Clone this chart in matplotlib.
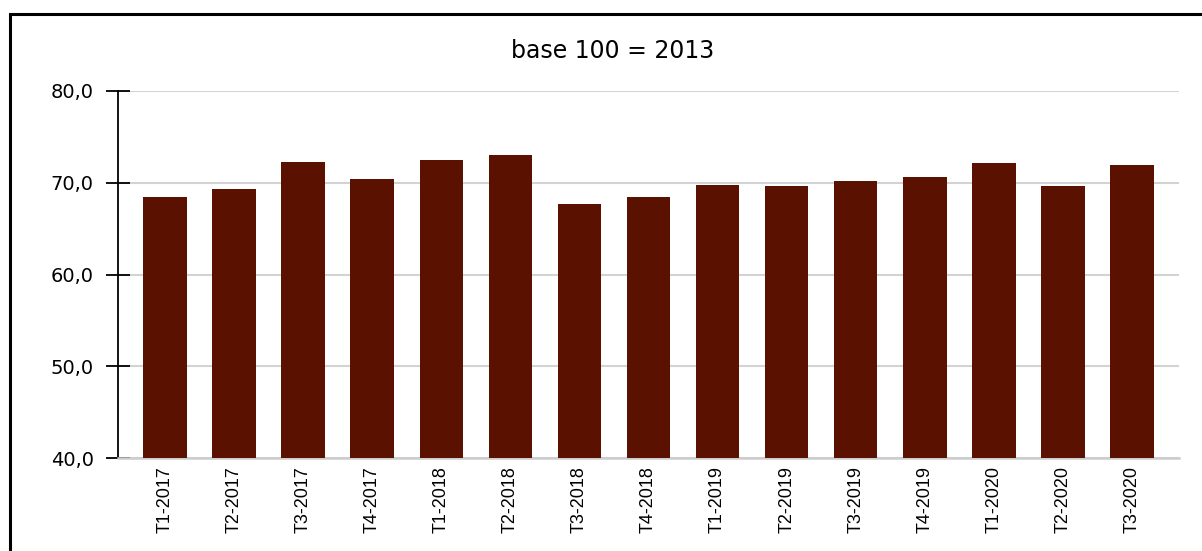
import matplotlib.pyplot as plt
from matplotlib.patches import Rectangle

# quarters and index values (base 100 = 2013)
quarters = ['T1-2017', 'T2-2017', 'T3-2017', 'T4-2017',
            'T1-2018', 'T2-2018', 'T3-2018', 'T4-2018',
            'T1-2019', 'T2-2019', 'T3-2019', 'T4-2019',
            'T1-2020', 'T2-2020', 'T3-2020']
values = [68.5, 69.3, 72.3, 70.4,
          72.5, 73.0, 67.7, 68.5,
          69.8, 69.6, 70.2, 70.6,
          72.2, 69.6, 71.9]
y_ticks = [40, 50, 60, 70, 80]
y_labels = ['40,0', '50,0', '60,0', '70,0', '80,0']

W, H = 1202, 551
fig = plt.figure(figsize=(W / 100, H / 100), dpi=100)

# outer frame (runs past the right and bottom edge)
fig.patches.append(Rectangle((9.5 / W, -0.1), 1.2, 1 - 13.5 / H + 0.1,
                             transform=fig.transFigure, fill=False,
                             edgecolor='black', linewidth=2.2))

ax = fig.add_axes([118 / W, 93 / H, (1179 - 118) / W, (460 - 93) / H])

x = range(len(quarters))
ax.bar(x, values, width=0.63, color='#5a1100', zorder=3)

ax.set_xlim(-0.68, len(quarters) - 1 + 0.68)
ax.set_ylim(40, 80)
ax.set_yticks(y_ticks)
ax.set_yticklabels(y_labels, fontsize=14, family='DejaVu Sans')
ax.set_xticks(list(x))
ax.set_xticklabels(quarters, rotation=90, fontsize=13, family='Liberation Sans')

ax.yaxis.grid(True, color='#d3d3d3', linewidth=1.5, zorder=0)
ax.tick_params(axis='y', direction='inout', length=17, width=1.3, pad=9, colors='black')
ax.tick_params(axis='x', length=0, pad=6)

for s in ['top', 'right']:
    ax.spines[s].set_visible(False)
ax.spines['left'].set_linewidth(1.3)
ax.spines['bottom'].set_color('#cccccc')
ax.spines['bottom'].set_linewidth(1.8)

fig.text(613 / W, 1 - 51 / H, 'base 100 = 2013', ha='center', va='center',
         fontsize=17, family='DejaVu Sans')

fig.savefig('out.png', dpi=100)
